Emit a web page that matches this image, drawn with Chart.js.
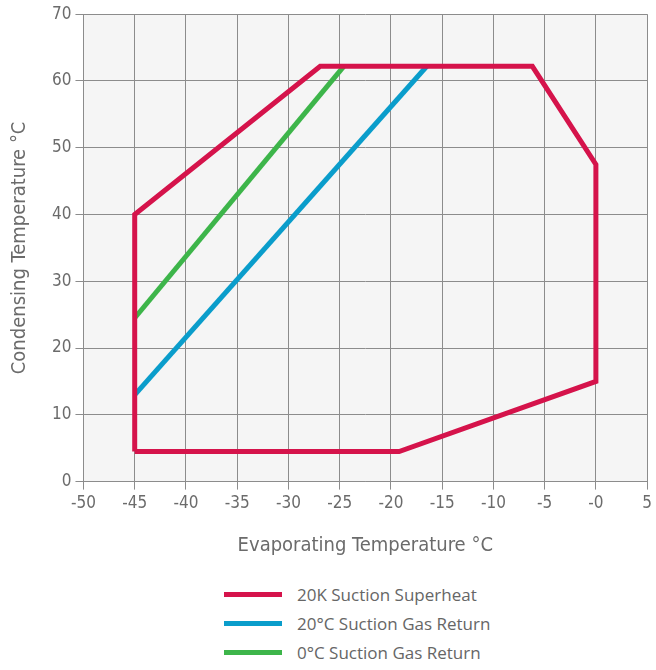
<!DOCTYPE html>
<html>
<head>
<meta charset="utf-8">
<script src="https://cdn.jsdelivr.net/npm/chart.js@4"></script>
<style>
  body { margin: 0; background: #fff; }
  #wrap { width: 656px; height: 563px; position: relative; }
  #legend { position: absolute; left: 224px; top: 580px; font-family: "Open Sans", sans-serif; font-size: 17px; color: #666; }
  .item { height: 29px; display: flex; align-items: center; }
  .swatch { width: 58px; height: 5px; margin-right: 15px; }
</style>
</head>
<body>
<div id="wrap"><canvas id="chart-envelope"></canvas></div>
<div id="legend"></div>
<script>
const COLORS = {
  red: "#d5134b",
  blue: "#0a9dcb",
  green: "#3db54a",
  grid: "#8c8c8c",
  text: "#6b6b6b",
};

// envelope (20K suction superheat)
const envX = [-45, -19.2, 0, 0, -6.2, -26.9, -45, -45];
const envY = [4.5, 4.5, 15, 47.5, 62.2, 62.2, 40, 4.5];
// 20°C suction gas return
const blueX = [-45, -16.5];
const blueY = [13, 62.2];
// 0°C suction gas return
const greenX = [-45, -24.6];
const greenY = [24.5, 62.2];

const SERIES = [
  { label: "20K Suction Superheat", xs: envX, ys: envY, color: COLORS.red },
  { label: "20°C Suction Gas Return", xs: blueX, ys: blueY, color: COLORS.blue },
  { label: "0°C Suction Gas Return", xs: greenX, ys: greenY, color: COLORS.green },
];

const toPoints = (xs, ys) => xs.map((x, i) => ({ x, y: ys[i] }));

const plotBg = {
  id: "plotBg",
  beforeDraw(chart) {
    const { ctx, chartArea: a } = chart;
    ctx.save();
    ctx.fillStyle = "#f5f5f5";
    ctx.fillRect(a.left, a.top, a.right - a.left, a.bottom - a.top);
    ctx.restore();
  },
};

const tickFont = { family: "'DejaVu Sans Condensed', sans-serif", size: 17 };
const titleFont = { family: "'DejaVu Sans Condensed', sans-serif", size: 20 };

new Chart(document.getElementById("chart-envelope"), {
  type: "scatter",
  data: {
    datasets: SERIES.map((s) => ({
      label: s.label,
      data: toPoints(s.xs, s.ys),
      showLine: true,
      borderColor: s.color,
      backgroundColor: s.color,
      borderWidth: 5,
      borderJoinStyle: "miter",
      pointRadius: 0,
      fill: false,
    })),
  },
  options: {
    responsive: true,
    maintainAspectRatio: false,
    animation: false,
    layout: { padding: { top: 7, right: 2, left: 4, bottom: 1 } },
    plugins: { legend: { display: false }, tooltip: { enabled: false } },
    scales: {
      x: {
        min: -50,
        max: 5,
        ticks: {
          stepSize: 5,
          color: COLORS.text,
          font: tickFont,
          padding: 4,
          callback: (v) => (v === 0 ? "-0" : v),
        },
        grid: { color: COLORS.grid, tickLength: 8 },
        border: { color: COLORS.grid },
        title: { display: true, text: "Evaporating Temperature °C", color: COLORS.text, font: titleFont, padding: { top: 16 } },
      },
      y: {
        min: 0,
        max: 70,
        ticks: { stepSize: 10, color: COLORS.text, font: tickFont, padding: 4 },
        grid: { color: COLORS.grid, tickLength: 8 },
        border: { color: COLORS.grid },
        title: { display: true, text: "Condensing Temperature °C", color: COLORS.text, font: titleFont, padding: { top: 4, bottom: 16 } },
      },
    },
  },
  plugins: [plotBg],
});

const legend = document.getElementById("legend");
SERIES.forEach((s) => {
  const row = document.createElement("div");
  row.className = "item";
  row.innerHTML = `<span class="swatch" style="background:${s.color}"></span><span>${s.label}</span>`;
  legend.appendChild(row);
});
</script>
</body>
</html>
